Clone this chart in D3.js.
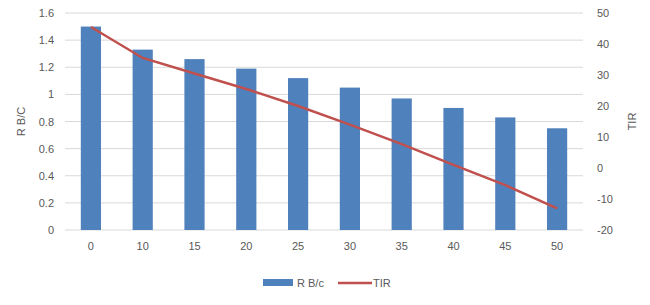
<!DOCTYPE html>
<html>
<head>
<meta charset="utf-8">
<script src="https://cdn.jsdelivr.net/npm/d3@7"></script>
<style>
  body { margin: 0; background: #fff; }
  text { font-family: "Liberation Sans", Arial, sans-serif; fill: #595959; }
</style>
</head>
<body>
<div id="chart"></div>
<script>
const categories = ["0", "10", "15", "20", "25", "30", "35", "40", "45", "50"];
const rbcValues = [1.5, 1.33, 1.26, 1.19, 1.12, 1.05, 0.97, 0.9, 0.83, 0.75];
const tirValues = [45.5, 35.5, 30.5, 25.5, 20, 14, 7.7, 1, -5.5, -13];
const leftTicks = [0, 0.2, 0.4, 0.6, 0.8, 1, 1.2, 1.4, 1.6];
const rightTicks = [-20, -10, 0, 10, 20, 30, 40, 50];

const W = 650, H = 305;
const margin = { top: 13, right: 67, bottom: 75, left: 65 };
const width = W - margin.left - margin.right;
const height = H - margin.top - margin.bottom;

const svg = d3.select("#chart").append("svg")
  .attr("width", W).attr("height", H);

const g = svg.append("g")
  .attr("transform", `translate(${margin.left},${margin.top})`);

const x = d3.scaleBand().domain(categories).range([0, width]).paddingInner(0.61).paddingOuter(0.305);
const yL = d3.scaleLinear().domain([0, 1.6]).range([height, 0]);
const yR = d3.scaleLinear().domain([-20, 50]).range([height, 0]);

// gridlines
g.selectAll(".grid").data(leftTicks).enter().append("line")
  .attr("x1", 0).attr("x2", width)
  .attr("y1", d => yL(d)).attr("y2", d => yL(d))
  .attr("stroke", "#d9d9d9").attr("stroke-width", 1);

// bars
g.selectAll(".bar").data(rbcValues).enter().append("rect")
  .attr("x", (d, i) => x(categories[i]))
  .attr("y", d => yL(d))
  .attr("width", x.bandwidth())
  .attr("height", d => height - yL(d))
  .attr("fill", "#4f81bd");

// line
const line = d3.line()
  .x((d, i) => x(categories[i]) + x.bandwidth() / 2)
  .y(d => yR(d));
g.append("path").datum(tirValues)
  .attr("d", line)
  .attr("fill", "none")
  .attr("stroke", "#c0504d")
  .attr("stroke-width", 2.5);

// axes
const axL = g.append("g").call(d3.axisLeft(yL).tickValues(leftTicks).tickSize(0).tickPadding(11).tickFormat(d => String(d)));
const axR = g.append("g").attr("transform", `translate(${width},0)`)
  .call(d3.axisRight(yR).tickValues(rightTicks).tickSize(0).tickPadding(14).tickFormat(d => String(d)));
const axB = g.append("g").attr("transform", `translate(0,${height})`)
  .call(d3.axisBottom(x).tickSize(0).tickPadding(12));
[axL, axR, axB].forEach(a => {
  a.select(".domain").remove();
  a.selectAll("text").style("font-size", "11px").attr("fill", "#595959");
});

// axis titles
svg.append("text")
  .attr("transform", `translate(25,${margin.top + height / 2}) rotate(-90)`)
  .attr("text-anchor", "middle").style("font-size", "11px")
  .text("R B/C");
svg.append("text")
  .attr("transform", `translate(636,${margin.top + height / 2}) rotate(-90)`)
  .attr("text-anchor", "middle").style("font-size", "11px")
  .text("TIR");

// legend
const leg = svg.append("g").attr("transform", "translate(263,283)");
leg.append("rect").attr("x", 0).attr("y", -4).attr("width", 30).attr("height", 7).attr("fill", "#4f81bd");
leg.append("text").attr("x", 34).attr("y", 4).style("font-size", "11px").text("R B/c");
leg.append("line").attr("x1", 75).attr("x2", 109).attr("y1", 0).attr("y2", 0)
  .attr("stroke", "#c0504d").attr("stroke-width", 2.5);
leg.append("text").attr("x", 110).attr("y", 4).style("font-size", "11px").text("TIR");
</script>
</body>
</html>
